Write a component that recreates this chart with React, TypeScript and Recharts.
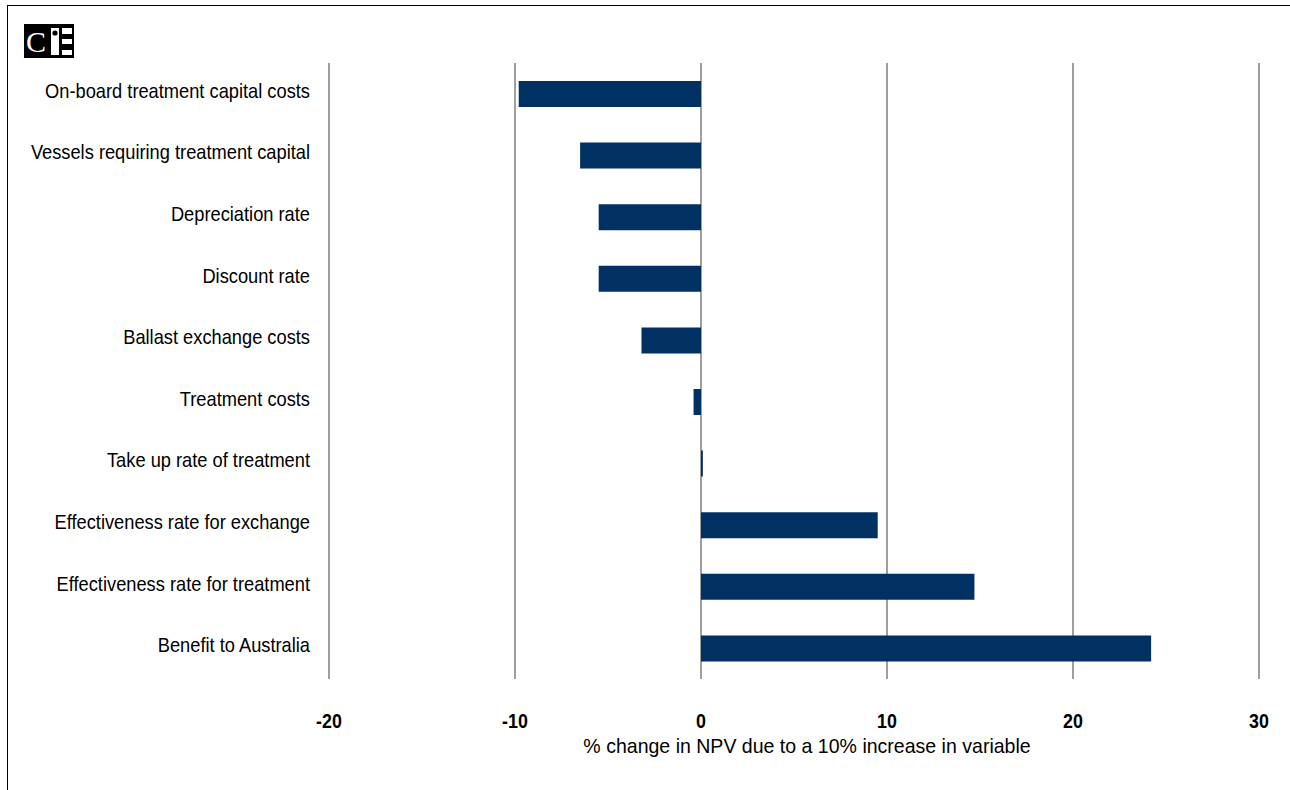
import React from "react";
import { BarChart, Bar, XAxis, YAxis, CartesianGrid } from "recharts";

const variables = [
  "On-board treatment capital costs",
  "Vessels requiring treatment capital",
  "Depreciation rate",
  "Discount rate",
  "Ballast exchange costs",
  "Treatment costs",
  "Take up rate of treatment",
  "Effectiveness rate for exchange",
  "Effectiveness rate for treatment",
  "Benefit to Australia",
];

const npvChange = [-9.8, -6.5, -5.5, -5.5, -3.2, -0.4, 0.1, 9.5, 14.7, 24.2];

const xTicks = [-20, -10, 0, 10, 20, 30];

const axisTitle = "% change in NPV due to a 10% increase in variable";

const data = variables.map((name, i) => ({ name, value: npvChange[i] }));

const sans = '"Liberation Sans", Arial, sans-serif';

// no narrow face installed, so squeeze the regular one horizontally
const CategoryTick = ({ x, y, payload }: any) => (
  <g transform={`translate(${x},${y}) scale(0.87,1)`}>
    <text x={0} y={0} dy={4} textAnchor="end" fill="#000" fontFamily={sans} fontSize={21}>
      {payload.value}
    </text>
  </g>
);

const ValueTick = ({ x, y, payload }: any) => (
  <g transform={`translate(${x},${y}) scale(0.85,1)`}>
    <text x={0} y={0} dy={16} textAnchor="middle" fill="#000" fontFamily={sans} fontSize={21} fontWeight="bold">
      {payload.value}
    </text>
  </g>
);

function Logo() {
  return (
    <svg width={50} height={34} style={{ position: "absolute", left: 24, top: 24 }}>
      <rect x={0} y={0} width={50} height={34} fill="#000" />
      <text x={2} y={28} fill="#fff" fontFamily='"Liberation Serif", "DejaVu Serif", serif' fontSize={30}>
        C
      </text>
      <rect x={27} y={4} width={8} height={27} fill="#fff" />
      <circle cx={31} cy={9} r={2.6} fill="#000" />
      <rect x={38} y={4} width={10} height={6} fill="#fff" />
      <rect x={38} y={15} width={10} height={5} fill="#fff" />
      <rect x={38} y={26} width={10} height={5} fill="#fff" />
    </svg>
  );
}

export default function App() {
  return (
    <div style={{ position: "absolute", left: 0, top: 0, width: 1290, height: 790, background: "#fff" }}>
      <div style={{ position: "absolute", left: 7, top: 5, width: 1283, height: 1, background: "#000" }} />
      <div style={{ position: "absolute", left: 7, top: 5, width: 1, height: 785, background: "#000" }} />
      <Logo />
      <div style={{ position: "absolute", left: 0, top: 0 }}>
        <BarChart
          width={1290}
          height={790}
          data={data}
          layout="vertical"
          margin={{ top: 63, right: 31, bottom: 81, left: 0 }}
          barSize={26}
        >
          <CartesianGrid horizontal={false} stroke="#7f7f7f" strokeWidth={1.5} />
          <XAxis
            type="number"
            domain={[-20, 30]}
            ticks={xTicks}
            axisLine={false}
            tickLine={false}
            tickSize={0}
            tickMargin={33}
            height={30}
            tick={<ValueTick />}
          />
          <YAxis
            type="category"
            dataKey="name"
            width={329}
            axisLine={false}
            tickLine={false}
            tickSize={0}
            tickMargin={19}
            interval={0}
            tick={<CategoryTick />}
          />
          <Bar dataKey="value" fill="#003162" isAnimationActive={false} />
        </BarChart>
      </div>
      <div
        style={{
          position: "absolute",
          left: 507,
          width: 600,
          top: 734,
          textAlign: "center",
          fontFamily: sans,
          fontSize: 21,
          color: "#000",
          whiteSpace: "nowrap",
          transform: "scaleX(0.93)",
        }}
      >
        {axisTitle}
      </div>
    </div>
  );
}
